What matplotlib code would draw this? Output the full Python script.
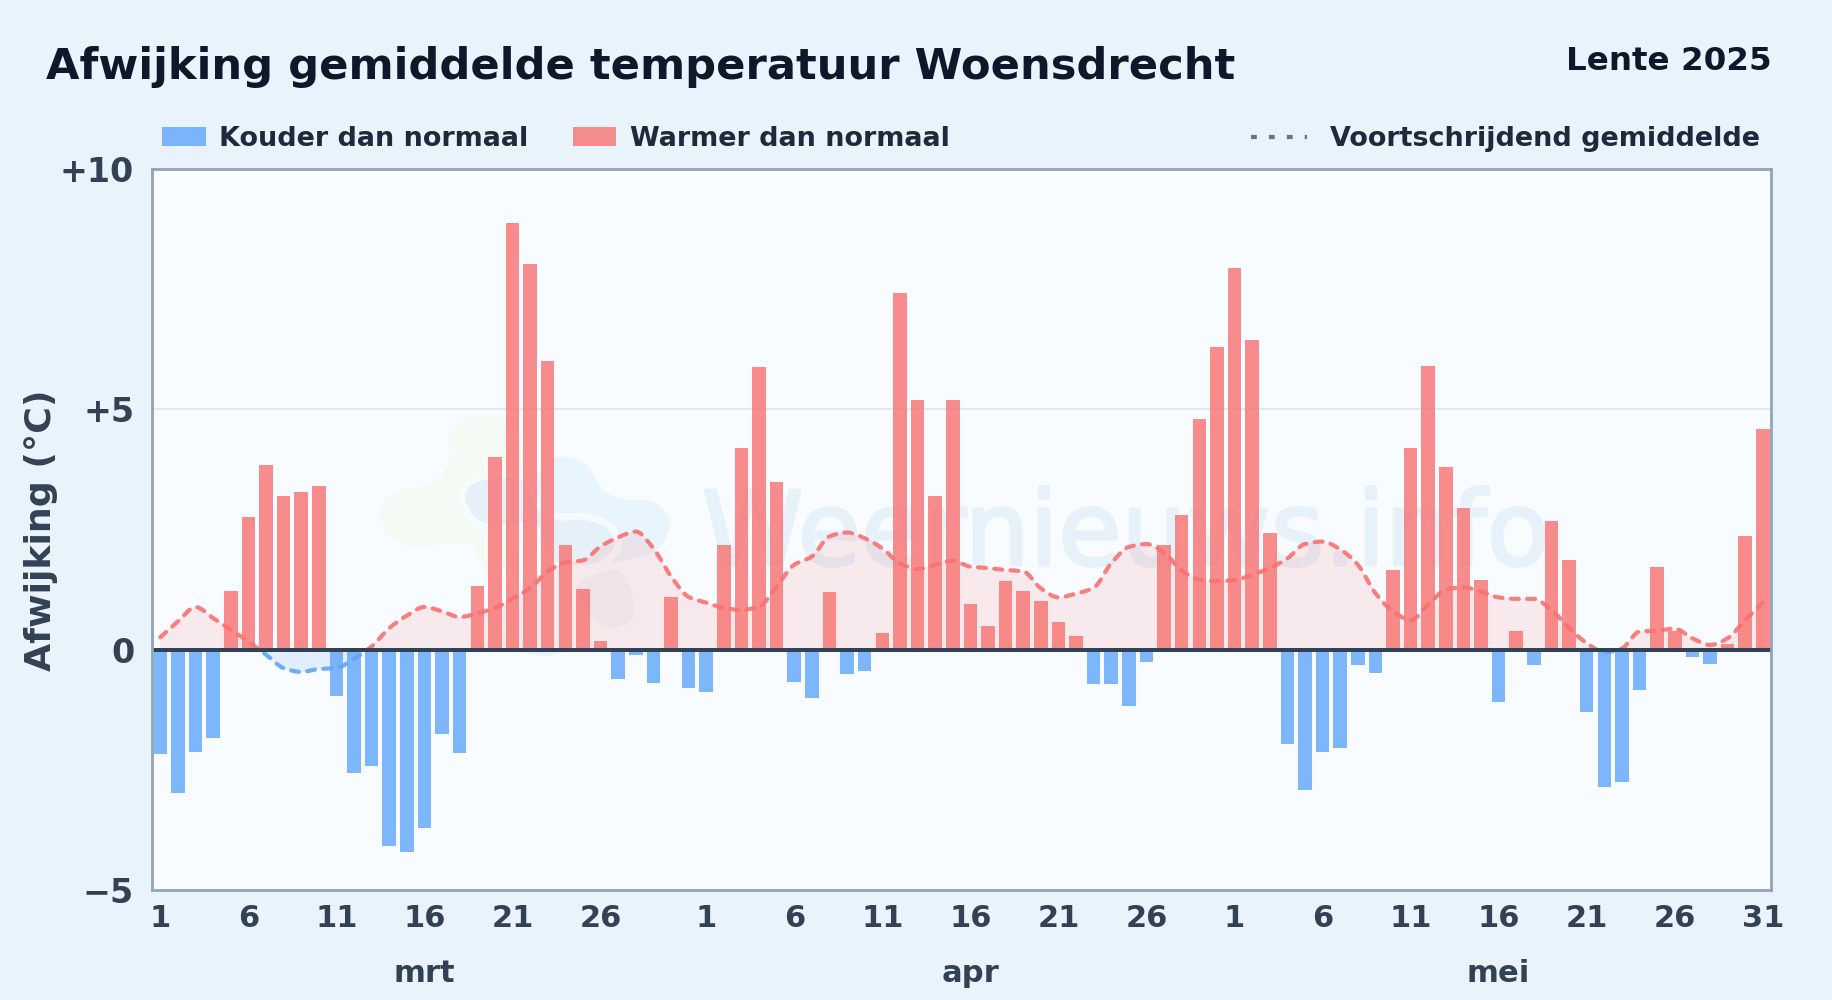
import numpy as np
import matplotlib
matplotlib.use("Agg")
import matplotlib.pyplot as plt
import matplotlib.patheffects as pe
from matplotlib.path import Path
from matplotlib.patches import PathPatch, Rectangle, Polygon
from matplotlib.lines import Line2D
from matplotlib.transforms import blended_transform_factory

plt.rcParams['font.family'] = ['DejaVu Sans']

# ---------- data ----------
deviation_mrt = [-2.17, -2.97, -2.12, -1.83, 1.22, 2.77, 3.84, 3.2, 3.28, 3.4, -0.97, -2.56, -2.41, -4.09, -4.2, -3.7,
                 -1.75, -2.14, 1.32, 4.0, 8.88, 8.03, 6.0, 2.17, 1.27, 0.18, -0.6, -0.1, -0.7, 1.1, -0.8]
deviation_apr = [-0.88, 2.17, 4.2, 5.88, 3.48, -0.68, -1.0, 1.2, -0.5, -0.44, 0.35, 7.42, 5.2, 3.19, 5.2, 0.95, 0.5,
                 1.44, 1.22, 1.02, 0.58, 0.29, -0.72, -0.72, -1.17, -0.25, 2.17, 2.8, 4.79, 6.3]
deviation_mei = [7.95, 6.45, 2.43, -1.95, -2.92, -2.12, -2.05, -0.32, -0.48, 1.65, 4.2, 5.9, 3.8, 2.94, 1.46, -1.08,
                 0.39, -0.32, 2.68, 1.87, -1.29, -2.85, -2.75, -0.83, 1.73, 0.39, -0.15, -0.3, 0.12, 2.36, 4.6]
moving_avg = [0.26, 0.59, 0.89, 0.66, 0.42, 0.17, -0.1, -0.38, -0.46, -0.4, -0.38, -0.19, 0.07, 0.45, 0.71, 0.89, 0.8,
              0.68, 0.76, 0.87, 1.07, 1.28, 1.63, 1.82, 1.86, 2.15, 2.34, 2.46, 2.11, 1.53, 1.1, 0.98, 0.87, 0.83, 0.9,
              1.32, 1.77, 1.94, 2.36, 2.44, 2.32, 2.11, 1.8, 1.68, 1.77, 1.85, 1.73, 1.7, 1.66, 1.63, 1.28, 1.09, 1.17,
              1.29, 1.8, 2.14, 2.2, 2.02, 1.65, 1.46, 1.43, 1.45, 1.56, 1.7, 1.9, 2.2, 2.25, 2.09, 1.77, 1.18, 0.8,
              0.62, 0.94, 1.25, 1.3, 1.21, 1.09, 1.06, 1.06, 0.83, 0.45, 0.14, -0.05, 0.03, 0.38, 0.4, 0.44, 0.24, 0.1,
              0.24, 0.62, 0.98]
month_names = ["mrt", "apr", "mei"]
month_lengths = [31, 30, 31]
tick_days = [1, 6, 11, 16, 21, 26]
y_ticks = [-5, 0, 5, 10]
y_labels = ["\u22125", "0", "+5", "+10"]

title = "Afwijking gemiddelde temperatuur Woensdrecht"
subtitle = "Lente 2025"
ylabel = "Afwijking (\u00b0C)"
watermark = "Weernieuws.info"
legend_cold = "Kouder dan normaal"
legend_warm = "Warmer dan normaal"
legend_avg = "Voortschrijdend gemiddelde"

values = np.array(deviation_mrt + deviation_apr + deviation_mei)
avg = np.array(moving_avg)
days = np.arange(len(values))

# ---------- style ----------
W, H = 1832, 1000
BG = "#e8f3fc"
PLOT_BG = "#f8fbff"
BLUE = "#60a5fa"
RED = "#f87171"
DARK = "#0f172a"
MID = "#1e293b"
TICK = "#334155"

fig = plt.figure(figsize=(W / 100, H / 100), dpi=100, facecolor=BG)
L, R, T, B = 152.2, 1771.2, 169.0, 890.2
ax = fig.add_axes([L / W, 1 - B / H, (R - L) / W, (B - T) / H], facecolor=PLOT_BG)
band, first = 17.61, 160.3
ax.set_xlim((L - first) / band, (R - first) / band)
ax.set_ylim(-5, 10)
for s in ax.spines.values():
    s.set_color("#94a3b8")
    s.set_linewidth(2)
    s.set_zorder(8)


# ---------- watermark ----------
def smooth_closed(pts, n=14):
    p = np.array(pts, float)
    out = []
    m = len(p)
    for i in range(m):
        p0, p1, p2, p3 = p[i - 1], p[i], p[(i + 1) % m], p[(i + 2) % m]
        for t in np.linspace(0, 1, n, endpoint=False):
            out.append(0.5 * (2 * p1 + (p2 - p0) * t + (2 * p0 - 5 * p1 + 4 * p2 - p3) * t ** 2
                              + (3 * p1 - p0 - 3 * p2 + p3) * t ** 3))
    return np.array(out)


def blob(pts, color, edge="none", lw=0):
    q = smooth_closed(pts)
    xy = np.column_stack([(360 + q[:, 0] / 3) / W, 1 - (400 + q[:, 1] / 3) / H])
    ax.add_patch(Polygon(xy, closed=True, transform=fig.transFigure, facecolor=color, edgecolor=edge, lw=lw, zorder=0.5))


RING = "#f6fbfe"
blob([(268, 110), (320, 55), (400, 45), (465, 90), (490, 200), (480, 340), (470, 470), (400, 520), (360, 490),
      (340, 440), (260, 430), (170, 442), (90, 410), (58, 340), (100, 280), (210, 250), (265, 190)], "#f4fbf4")
blob([(540, 210), (600, 170), (680, 195), (730, 270), (800, 300), (880, 305), (930, 370), (895, 445), (840, 470),
      (700, 500), (560, 500), (530, 350)], "#e9f5fd")
blob([(650, 540), (750, 500), (800, 520), (830, 600), (820, 670), (750, 692), (690, 660), (650, 600)], "#eef3fa", RING, 5)
blob([(305, 290), (340, 240), (420, 225), (500, 235), (540, 320), (600, 350), (680, 350), (750, 380), (775, 440),
      (720, 495), (640, 505), (560, 480), (520, 380), (400, 385), (340, 360)], "#e6f0f9", RING, 5)
blob([(490, 755), (540, 745), (610, 750), (560, 768)], "#eaf2fa")
wm = ax.text(702 / W, 1 - 565 / H, watermark, transform=fig.transFigure, fontsize=74, color="#e6f1fa",
             ha="left", va="baseline", zorder=0.7, clip_on=True)
wm.set_path_effects([pe.withStroke(linewidth=2, foreground="#e6f1fa")])

# ---------- grid ----------
ax.axhline(5, color="#e2e8f0", lw=1.5, zorder=1)


# ---------- moving average path ----------
def curve(x, y):
    d = np.diff(y) / np.diff(x)
    m = np.zeros_like(y)
    m[1:-1] = np.where(d[:-1] * d[1:] > 0, 2 * d[:-1] * d[1:] / (d[:-1] + d[1:]), 0)
    m[0], m[-1] = d[0], d[-1]
    verts = [(x[0], y[0])]
    codes = [Path.MOVETO]
    for i in range(len(x) - 1):
        h = x[i + 1] - x[i]
        verts += [(x[i] + h / 3, y[i] + m[i] * h / 3), (x[i + 1] - h / 3, y[i + 1] - m[i + 1] * h / 3),
                  (x[i + 1], y[i + 1])]
        codes += [Path.CURVE4] * 3
    return verts, codes


verts, codes = curve(days.astype(float), avg)
fill_path = Path(verts + [(days[-1], 0), (days[0], 0), (days[0], 0)], codes + [Path.LINETO, Path.LINETO, Path.CLOSEPOLY])
line_path = Path(verts, codes)
xspan = (-1, len(values) + 1)
upper = Rectangle((xspan[0], 0), xspan[1] - xspan[0], 11, transform=ax.transData)
lower = Rectangle((xspan[0], -6), xspan[1] - xspan[0], 6, transform=ax.transData)
for clip, col, alpha in [(upper, RED, 0.13), (lower, BLUE, 0.15)]:
    p = PathPatch(fill_path, facecolor=col, edgecolor="none", alpha=alpha, zorder=1.5)
    ax.add_patch(p)
    p.set_clip_path(clip)

# ---------- bars ----------
colors = [RED if v >= 0 else BLUE for v in values]
ax.bar(days, values, width=0.77, color=colors, alpha=0.8, linewidth=0, zorder=2)

for clip, col in [(upper, RED), (lower, BLUE)]:
    p = PathPatch(line_path, facecolor="none", edgecolor=col, lw=3, alpha=0.9, zorder=3,
                  linestyle=(0, (1.9, 2.0)), capstyle="round", joinstyle="round")
    ax.add_patch(p)
    p.set_clip_path(clip)

ax.axhline(0, color=TICK, lw=2.9, zorder=4)

# ---------- axes text ----------
ax.set_yticks(y_ticks)
ax.set_yticklabels(y_labels)
tick_pos, tick_lab = [], []
start = 0
centers = []
for name, n in zip(month_names, month_lengths):
    for d in tick_days + ([31] if name == "mei" else []):
        tick_pos.append(start + d - 1)
        tick_lab.append(str(d))
    centers.append(start + 15)
    start += n
ax.set_xticks(tick_pos)
ax.set_xticklabels(tick_lab)
ax.tick_params(axis="both", length=0, colors=TICK)
for lab in ax.get_yticklabels():
    lab.set_fontsize(24)
    lab.set_fontweight("bold")
for lab in ax.get_xticklabels():
    lab.set_fontsize(22)
    lab.set_fontweight("bold")
ax.tick_params(axis="y", pad=13)
ax.tick_params(axis="x", pad=10)

tr = blended_transform_factory(ax.transData, fig.transFigure)
for c, name in zip(centers, month_names):
    ax.text(c, 1 - 973.5 / H, name, transform=tr, fontsize=22.1, fontweight="bold", color=TICK,
            ha="center", va="center", clip_on=False)

fig.text(41 / W, 1 - 530 / H, ylabel, rotation=90, fontsize=26.2, fontweight="bold", color=TICK,
         ha="center", va="center")
fig.text(46 / W, 1 - 79 / H, title, fontsize=31.15, fontweight="bold", color=DARK, ha="left", va="baseline")
fig.text(1771.5 / W, 1 - 69.5 / H, subtitle, fontsize=23.4, fontweight="bold", color=DARK, ha="right", va="baseline")

# ---------- legend ----------
LY = 136.3
fig.add_artist(Rectangle((162 / W, 1 - 146 / H), 44 / W, 19 / H, transform=fig.transFigure, facecolor=BLUE, alpha=0.8, linewidth=0))
fig.text(219 / W, 1 - LY / H, legend_cold, fontsize=19.45, fontweight="bold", color=MID, ha="left", va="center_baseline")
fig.add_artist(Rectangle((573 / W, 1 - 146 / H), 43 / W, 19 / H, transform=fig.transFigure, facecolor=RED, alpha=0.8, linewidth=0))
fig.text(630 / W, 1 - LY / H, legend_warm, fontsize=19.45, fontweight="bold", color=MID, ha="left", va="center_baseline")
fig.add_artist(Line2D([1251 / W, 1307 / W], [1 - 137 / H, 1 - 137 / H], transform=fig.transFigure, color="#64748b",
                      lw=3, linestyle=(0, (1.4, 2.9))))
fig.text(1330 / W, 1 - LY / H, legend_avg, fontsize=19.45, fontweight="bold", color=MID, ha="left", va="center_baseline")

fig.savefig("out.png", dpi=100, facecolor=BG)
